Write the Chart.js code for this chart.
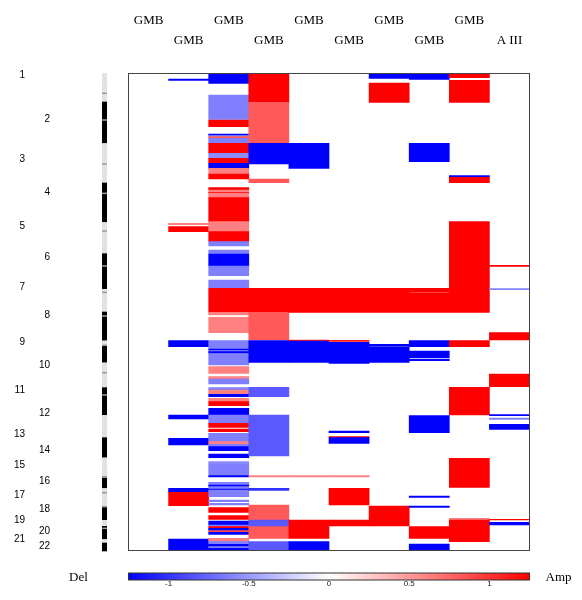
<!DOCTYPE html>
<html>
<head>
<meta charset="utf-8">
<script src="https://cdn.jsdelivr.net/npm/chart.js@4/dist/chart.umd.min.js"></script>
<style>
  html, body { margin: 0; padding: 0; background: #fff; }
</style>
</head>
<body>
<canvas id="heat" width="582" height="600"></canvas>
<script>
// columns of the heatmap (top labels)
const columns = ["GMB", "GMB", "GMB", "GMB", "GMB", "GMB", "GMB", "GMB", "GMB", "A III"];

// genome position scale (arbitrary Mb-like units, top = 0)
const genomeLength = 2862;

// chromosome labels and where they sit on the genome axis
const chromNames = ["1","2","3","4","5","6","7","8","9","10","11","12","13","14","15","16","17","18","19","20","21","22"];
const chromLabelPos = [12,276,516,718,922,1108,1288,1452,1616,1752,1902,2042,2166,2266,2352,2448,2534,2618,2686,2748,2798,2838];

// ideogram bands (alternating grey / black) and centromere marks
const bandEdges = [0,172,422,658,896,1082,1296,1432,1606,1638,1738,1886,2052,2186,2308,2428,2492,2602,2682,2718,2798,2818,2870];
const centromeres = [122,282,546,722,948,1158,1316,1458,1634,1798,1932,2422,2518,2602,2732];

// colour bar ticks
const scaleTicks = [-1, -0.5, 0, 0.5, 1];

// segments per column: [start, end, log-ratio]
const col0 = [];
const col1 = [[36,44,-1],[902,910,0.5],[922,952,1],[1606,1642,-1],[2052,2076,-1],[2192,2232,-1],
  [2492,2516,-1],[2516,2596,1],[2796,2862,-1]];
const col2 = [[0,62,-1],[132,278,-0.5],[282,322,1],[366,375,-1],[375,381,-0.5],[381,392,0.65],[392,422,-0.5],
  [422,482,1],[482,512,-0.45],[512,542,1],[542,572,-1],[572,606,0.5],[606,636,1],
  [688,702,1],[702,718,0.5],[718,722,1],[722,748,0.5],[748,892,1],[892,952,0.5],[952,1012,1],
  [1012,1038,-0.5],[1062,1086,-0.5],[1086,1158,-1],[1158,1216,-0.5],[1242,1292,-0.5],
  [1292,1436,1],[1436,1452,0.5],[1466,1558,0.5],
  [1606,1656,-0.5],[1656,1665,-1],[1665,1672,-0.5],[1672,1683,-1],[1683,1752,-0.5],
  [1762,1802,0.5],[1822,1836,0.5],[1836,1866,-0.5],[1888,1902,-0.5],[1902,1928,0.5],[1928,1942,-1],
  [1952,1972,0.5],[1972,1996,1],[2012,2052,-1],[2052,2102,-0.5],[2102,2126,1],[2136,2152,1],
  [2162,2212,-0.5],[2212,2228,0.5],[2228,2242,-0.5],[2242,2266,-1],[2286,2308,-1],
  [2332,2346,-0.45],[2346,2416,-0.5],[2416,2424,-1],[2456,2472,-0.5],[2472,2482,-1],[2482,2496,-0.5],
  [2496,2502,-1],[2502,2542,-0.5],[2562,2572,-0.5],[2582,2592,-0.5],[2608,2636,1],[2656,2678,1],
  [2688,2712,-1],[2712,2722,-0.5],[2722,2732,1],[2732,2746,-1],[2746,2756,0.7],[2756,2768,-1],
  [2792,2812,0.5],[2812,2828,-0.5],[2828,2842,-1],[2842,2852,-0.5],[2852,2862,-1]];
const col3 = [[0,176,1],[176,422,0.65],[422,546,-1],[636,658,0.65],[1292,1436,1],[1436,1602,0.65],
  [1606,1736,-1],[1886,1942,-0.65],[2052,2298,-0.65],[2416,2424,0.5],[2492,2504,-0.8],
  [2592,2682,0.65],[2682,2722,-0.65],[2722,2792,0.65],[2812,2862,-0.65]];
const col4 = [[422,572,-1],[1292,1436,1],[1602,1608,0.9],[1608,1736,-1],[2416,2424,0.5],
  [2682,2792,1],[2812,2862,-1]];
const col5 = [[1292,1436,1],[1604,1610,0.9],[1616,1742,-1],[2148,2158,-1],[2182,2188,1],[2188,2222,-1],
  [2416,2424,0.5],[2492,2592,1],[2682,2718,1]];
const col6 = [[0,32,-1],[60,176,1],[1292,1436,1],[1628,1636,-1],[1642,1736,-1],[2598,2718,1]];
const col7 = [[0,38,-1],[422,532,-1],[1292,1316,1],[1322,1436,1],[1606,1642,-1],[1668,1708,-1],
  [1716,1726,-1],[2056,2158,-1],[2538,2546,-1],[2598,2606,-1],[2722,2792,1],[2826,2862,-1]];
const col8 = [[0,28,1],[44,176,1],[616,626,-1],[626,658,1],[892,1436,1],[1606,1642,1],[1886,2052,1],
  [2312,2486,1],[2672,2682,0.5],[2682,2812,1]];
const col9 = [[1154,1160,1],[1294,1300,-0.5],[1558,1602,1],[1806,1882,1],[2050,2056,-1],
  [2070,2078,-0.5],[2108,2138,-1],[2678,2682,1],[2696,2712,-1]];
const columnSegments = [col0, col1, col2, col3, col4, col5, col6, col7, col8, col9];

// blue (-1) -> white (0) -> red (+1)
function heatColor(v) {
  const t = Math.round(255 * (1 - Math.min(1, Math.abs(v))));
  return v < 0 ? `rgb(${t},${t},255)` : `rgb(255,${t},${t})`;
}

// build the floating bars
const points = [];
const colors = [];
columnSegments.forEach((segs, c) => {
  segs.forEach(([a, b, v]) => {
    points.push({ x: c, y: [a, b] });
    colors.push(heatColor(v));
  });
});

const serif = "'Liberation Serif', 'Times New Roman', serif";
const sans = "'Liberation Sans', Arial, sans-serif";

// shared settings for the two chromosome label axes
function chromAxis(weight, parity, width) {
  return {
    type: "linear",
    position: "left",
    weight: weight,
    reverse: true,
    min: 0,
    max: genomeLength,
    grid: { display: false, drawTicks: false },
    border: { display: false },
    afterBuildTicks: s => {
      s.ticks = chromLabelPos.filter((_, i) => i % 2 === parity).map(v => ({ value: v }));
    },
    afterFit: s => { s.width = width; },
    ticks: {
      autoSkip: false,
      padding: 5,
      color: "#000",
      font: { family: sans, size: 10 },
      callback: v => chromNames[chromLabelPos.indexOf(v)]
    }
  };
}

// ideogram, plot frame, colour bar and its end labels
const decor = {
  id: "decor",
  afterDraw(chart) {
    const { ctx, chartArea: a, scales } = chart;
    const y = scales.y;
    ctx.save();

    // ideogram strip left of the plot
    const ix = a.left - 26.5;
    for (let i = 0; i < bandEdges.length - 1; i++) {
      const top = y.getPixelForValue(bandEdges[i]);
      const bot = y.getPixelForValue(bandEdges[i + 1]);
      ctx.fillStyle = i % 2 === 0 ? "#e2e2e2" : "#000";
      ctx.fillRect(ix, top, 5, bot - top);
    }
    ctx.fillStyle = "#9a9a9a";
    centromeres.forEach(c => {
      ctx.fillRect(ix, y.getPixelForValue(c) - 0.75, 5, 1.5);
    });

    // frame
    ctx.strokeStyle = "#444";
    ctx.lineWidth = 1;
    ctx.strokeRect(a.left, a.top + 0.5, a.right - a.left, a.bottom - a.top);

    // colour bar
    const cb = scales.cb;
    const g = ctx.createLinearGradient(cb.left, 0, cb.right, 0);
    scaleTicks.forEach(v => g.addColorStop((v + 1) / 2, heatColor(v)));
    ctx.fillStyle = g;
    const barTop = cb.top + 23;
    ctx.fillRect(cb.left, barTop, cb.right - cb.left, 7);
    ctx.strokeStyle = "#333";
    ctx.strokeRect(cb.left, barTop, cb.right - cb.left, 7);

    ctx.fillStyle = "#000";
    ctx.font = "13px " + serif;
    ctx.textAlign = "center";
    ctx.textBaseline = "middle";
    ctx.fillText("Del", cb.left - 50, barTop + 5);
    ctx.fillText("Amp", cb.right + 29, barTop + 5);
    ctx.restore();
  }
};

new Chart(document.getElementById("heat"), {
  type: "bar",
  data: {
    datasets: [{
      data: points,
      backgroundColor: colors,
      borderWidth: 0,
      barPercentage: 1,
      categoryPercentage: 1,
      xAxisID: "x",
      yAxisID: "y"
    }]
  },
  options: {
    responsive: false,
    animation: false,
    layout: { padding: { top: 0, left: 0, bottom: 0, right: 52.5 } },
    plugins: { legend: { display: false }, tooltip: { enabled: false } },
    scales: {
      x: {
        type: "linear",
        position: "top",
        min: -0.5,
        max: 9.5,
        offset: false,
        grid: { display: false, drawTicks: false },
        border: { display: false },
        afterBuildTicks: s => { s.ticks = columns.map((_, i) => ({ value: i })); },
        afterFit: s => { s.height = 73; },
        ticks: {
          autoSkip: false,
          maxRotation: 0,
          padding: 22,
          color: "#000",
          font: { family: serif, size: 13, lineHeight: "20px" },
          callback: v => (v % 2 === 0 ? [columns[v], ""] : ["", columns[v]])
        }
      },
      cb: {
        type: "linear",
        position: "bottom",
        min: -1,
        max: 1,
        grid: { display: false, drawTicks: false },
        border: { display: false },
        afterBuildTicks: s => { s.ticks = scaleTicks.map(v => ({ value: v })); },
        afterFit: s => { s.height = 50; },
        ticks: {
          autoSkip: false,
          maxRotation: 0,
          padding: 29,
          color: "#222",
          font: { family: sans, size: 8 },
          callback: v => String(v)
        }
      },
      // empty gap holding the ideogram strip
      y: {
        type: "linear",
        position: "left",
        weight: 0,
        reverse: true,
        min: 0,
        max: genomeLength,
        grid: { display: false, drawTicks: false },
        border: { display: false },
        ticks: { display: false },
        afterFit: s => { s.width = 73.5; }
      },
      yEven: chromAxis(1, 1, 25),
      yOdd: chromAxis(2, 0, 30)
    }
  },
  plugins: [decor]
});
</script>
</body>
</html>
